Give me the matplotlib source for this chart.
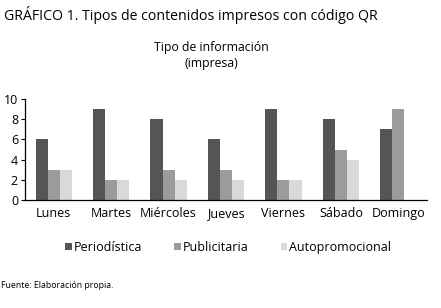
import numpy as np
import matplotlib
matplotlib.use('Agg')
import matplotlib.pyplot as plt

plt.rcParams['font.family'] = ['Open Sans', 'DejaVu Sans']

dias = ['Lunes', 'Martes', 'Miércoles', 'Jueves', 'Viernes', 'Sábado', 'Domingo']
periodistica = [6, 9, 8, 6, 9, 8, 7]
publicitaria = [3, 2, 3, 3, 2, 5, 9]
autopromocional = [3, 2, 2, 2, 2, 4, 0]
series = ['Periodística', 'Publicitaria', 'Autopromocional']
colores = ['#555555', '#9b9b9b', '#d9d9d9']

fig = plt.figure(figsize=(4.41, 3.08), dpi=100)
ax = fig.add_axes([25 / 441, 1 - 200 / 308, 402 / 441, 101 / 308])

x = np.arange(len(dias))
w = 0.21
for i, (vals, nombre, c) in enumerate(zip([periodistica, publicitaria, autopromocional], series, colores)):
    ax.bar(x + (i - 1) * w, vals, width=w, color=c, label=nombre)

ax.set_xlim(-0.5, len(dias) - 0.5)
ax.set_ylim(0, 10)
ax.set_yticks([0, 2, 4, 6, 8, 10])
ax.set_xticks(x)
ax.set_xticklabels(dias, fontsize=9)
ax.tick_params(axis='y', labelsize=9, length=3, pad=2)
ax.tick_params(axis='x', length=0, pad=5)
for s in ['top', 'right']:
    ax.spines[s].set_visible(False)
for s in ['left', 'bottom']:
    ax.spines[s].set_linewidth(0.9)

ax.legend(loc='upper center', bbox_to_anchor=(0.505, -0.29), ncol=3, frameon=False,
          fontsize=9, handlelength=0.5, handleheight=0.5, handletextpad=0.15,
          columnspacing=2.6)

fig.text(4 / 441, 1 - 15 / 308, 'GRÁFICO 1. Tipos de contenidos impresos con código QR',
         fontsize=10.2, va='center', ha='left')
fig.text(211 / 441, 1 - 55 / 308, 'Tipo de información\n(impresa)', fontsize=8.8,
         ha='center', va='center', linespacing=1.3)
fig.text(1 / 441, 1 - 285 / 308, 'Fuente: Elaboración propia.', fontsize=6.3,
         ha='left', va='center')

fig.savefig('out.png', dpi=100)
